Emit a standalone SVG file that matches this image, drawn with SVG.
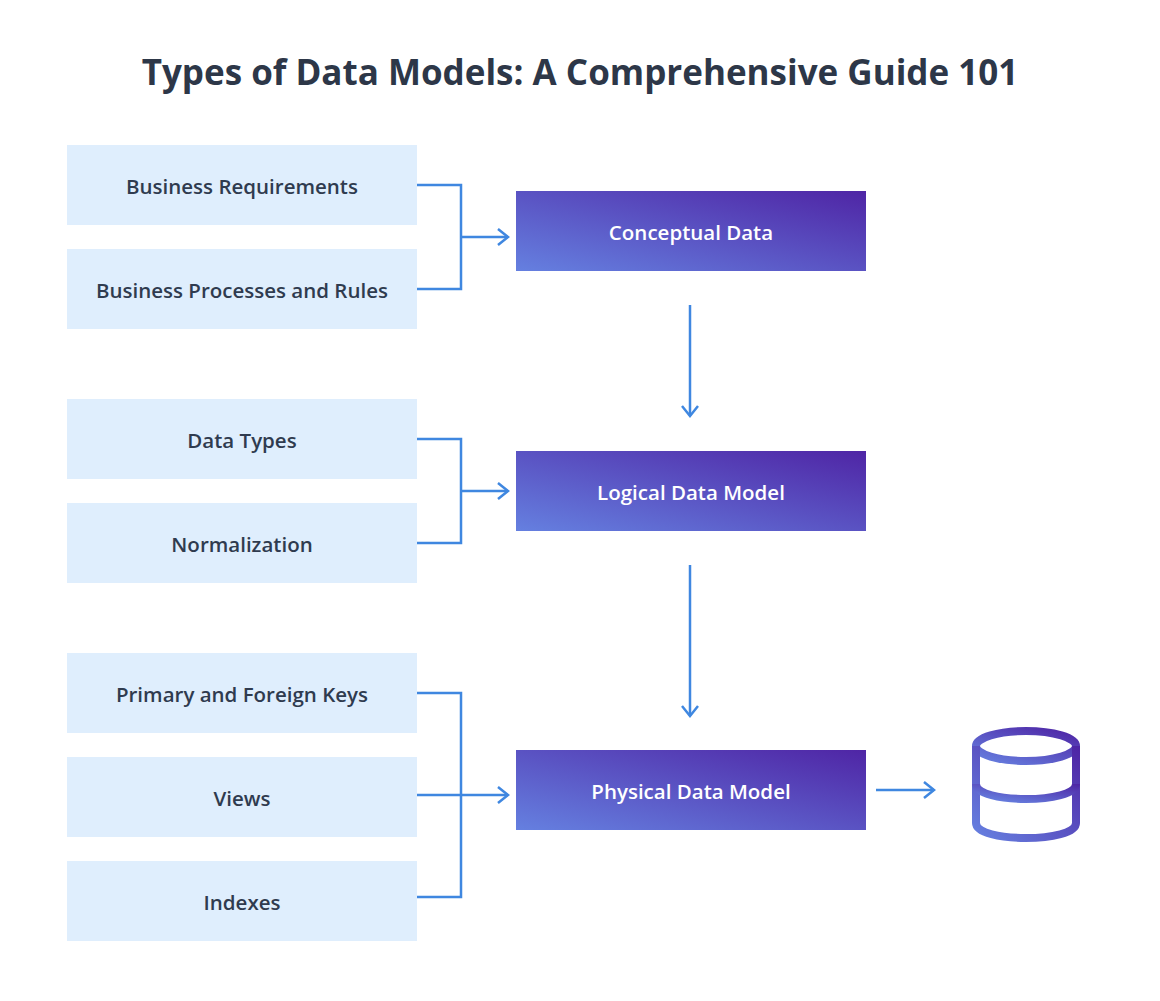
<svg xmlns="http://www.w3.org/2000/svg" width="1160" height="1001" viewBox="0 0 1160 1001">
<defs>
<linearGradient id="pg" x1="0" y1="1" x2="1" y2="0"><stop offset="0" stop-color="#6580e0"/><stop offset="1" stop-color="#4f25a5"/></linearGradient>
<linearGradient id="dg" x1="0" y1="1" x2="1" y2="0" gradientUnits="objectBoundingBox"><stop offset="0" stop-color="#6680e0"/><stop offset="1" stop-color="#4e25a5"/></linearGradient>
<marker id="ah" markerWidth="14" markerHeight="20" refX="12" refY="10" orient="auto" markerUnits="userSpaceOnUse"><path d="M2,2 L12,10 L2,18" fill="none" stroke="#3f87e0" stroke-width="2.5"/></marker>
</defs>
<style>
.lb{fill:#dfeefd}
.pb{fill:url(#pg)}
.t{font-family:"Open Sans","Noto Sans",sans-serif;font-size:20.5px;font-weight:600;text-anchor:middle;dominant-baseline:central}
.lt{fill:#2f3b4f}
.wt{fill:#ffffff}
.c{fill:none;stroke:#3f87e0;stroke-width:2.5}
</style>
<rect width="1160" height="1001" fill="#ffffff"/>
<text x="580" y="85" font-family="'Open Sans','Noto Sans',sans-serif" font-size="35" font-weight="700" fill="#2d3748" text-anchor="middle">Types of Data Models: A Comprehensive Guide 101</text>
<g id="n1"><rect class="lb" x="67" y="145" width="350" height="80"/><text class="t lt" x="242" y="186">Business Requirements</text></g>
<g id="n2"><rect class="lb" x="67" y="249" width="350" height="80"/><text class="t lt" x="242" y="290">Business Processes and Rules</text></g>
<g id="n3"><rect class="lb" x="67" y="399" width="350" height="80"/><text class="t lt" x="242" y="440">Data Types</text></g>
<g id="n4"><rect class="lb" x="67" y="503" width="350" height="80"/><text class="t lt" x="242" y="544">Normalization</text></g>
<g id="n5"><rect class="lb" x="67" y="653" width="350" height="80"/><text class="t lt" x="242" y="694">Primary and Foreign Keys</text></g>
<g id="n6"><rect class="lb" x="67" y="757" width="350" height="80"/><text class="t lt" x="242" y="798">Views</text></g>
<g id="n7"><rect class="lb" x="67" y="861" width="350" height="80"/><text class="t lt" x="242" y="902">Indexes</text></g>
<g id="p1"><rect class="pb" x="516" y="191" width="350" height="80"/><text class="t wt" x="691" y="232">Conceptual Data</text></g>
<g id="p2"><rect class="pb" x="516" y="451" width="350" height="80"/><text class="t wt" x="691" y="492">Logical Data Model</text></g>
<g id="p3"><rect class="pb" x="516" y="750" width="350" height="80"/><text class="t wt" x="691" y="791">Physical Data Model</text></g>
<g id="db" fill="none" stroke="url(#dg)" stroke-width="8">
<ellipse cx="1026" cy="746" rx="50" ry="15"/>
<path d="M976,746 V823 C976,843 1076,843 1076,823 V746"/>
<path d="M976,784 C976,804 1076,804 1076,784"/>
</g>
<g id="connectors">
<path class="c" d="M417,185 H461 V289 H417"/>
<path class="c" d="M461,237 H508" marker-end="url(#ah)"/>
<path class="c" d="M417,439 H461 V543 H417"/>
<path class="c" d="M461,491 H508" marker-end="url(#ah)"/>
<path class="c" d="M417,693 H461 V897 H417"/>
<path class="c" d="M417,795 H508" marker-end="url(#ah)"/>
<path class="c" d="M690,305 V416" marker-end="url(#ah)"/>
<path class="c" d="M690,565 V716" marker-end="url(#ah)"/>
<path class="c" d="M876,790 H934" marker-end="url(#ah)"/>
</g>
</svg>
